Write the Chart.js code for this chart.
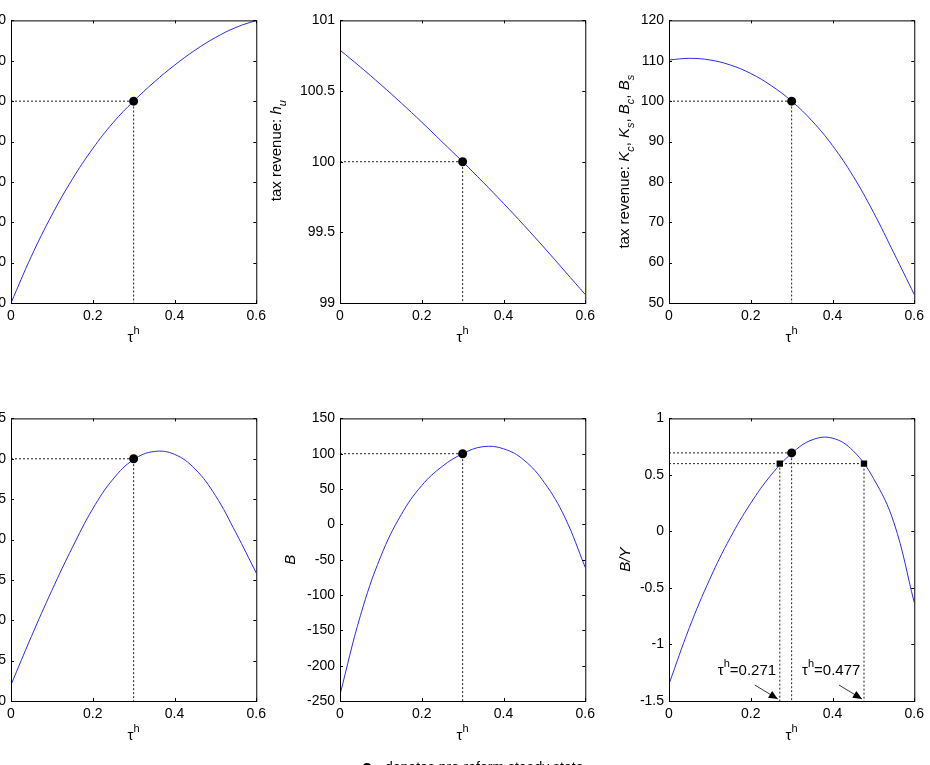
<!DOCTYPE html>
<html>
<head>
<meta charset="utf-8">
<script src="https://cdn.jsdelivr.net/npm/chart.js@4.4.1/dist/chart.umd.min.js"></script>
<style>
  html, body { margin: 0; padding: 0; background: #fff; }
  body { width: 930px; height: 765px; position: relative; overflow: hidden; font-family: "Liberation Sans", Arial, sans-serif; }
  canvas { position: absolute; }
  #note { position: absolute; left: 385px; top: 759px; font-size: 14px; line-height: 16px; white-space: nowrap; color: #000; }
  #noteDot { position: absolute; left: 363px; top: 763px; width: 8px; height: 8px; border-radius: 50%; background: #000; }
</style>
</head>
<body>
<canvas id="c1" width="339" height="356" style="left:-68px;top:7px"></canvas>
<canvas id="c2" width="339" height="356" style="left:261px;top:7px"></canvas>
<canvas id="c3" width="339" height="356" style="left:590px;top:7px"></canvas>
<canvas id="c4" width="339" height="356" style="left:-68px;top:405px"></canvas>
<canvas id="c5" width="339" height="356" style="left:261px;top:405px"></canvas>
<canvas id="c6" width="339" height="356" style="left:590px;top:405px"></canvas>
<div id="noteDot"></div>
<div id="note">denotes pre-reform steady state</div>
<script>
// values, tau^h on a 0.05 grid
const taxRates = [0, 0.05, 0.1, 0.15, 0.2, 0.25, 0.3, 0.35, 0.4, 0.45, 0.5, 0.55, 0.6];
const revenueLabour = [0, 23.2, 43.6, 61.3, 76.5, 89.4, 100, 109.4, 117.8, 125.2, 131.5, 136.5, 140];
const revenueHu = [100.79, 100.67, 100.545, 100.415, 100.28, 100.14, 100.0, 99.855, 99.705, 99.55, 99.39, 99.225, 99.06];
const revenueCapital = [110.2, 110.6, 110.2, 108.95, 106.85, 103.85, 100.0, 95.1, 89.0, 81.5, 72.5, 62.4, 52.1];
const revenueTotal = [72.0, 78.0, 83.7, 89.0, 93.8, 97.5, 99.9, 100.9, 100.55, 98.75, 95.45, 90.85, 85.85];
const debtLevel = [-241, -129, -45, 14, 55, 82, 100, 110, 107, 91, 59, 10, -61];
const debtRatio = [-1.35, -0.85, -0.42, -0.055, 0.25, 0.5, 0.69, 0.81, 0.825, 0.715, 0.47, 0.08, -0.63];

// pre-reform steady state and the two tax rates giving the same B/Y
const baseTau = 0.3;
const baseValues = [100, 100, 100, 100, 100, 0.695];
const thresholdTaus = [0.271, 0.477];
const thresholdRatio = 0.6;

// y axes
const yMins = [0, 99, 50, 70, -250, -1.5];
const yMaxs = [140, 101, 120, 105, 150, 1];
const ySteps = [20, 0.5, 10, 5, 50, 0.5];

const FONT = '"Liberation Sans", Arial, sans-serif';
const BLUE = 'rgb(45,45,230)';
const DOT_COLOR = '#222';

function fontFor(p, size) {
  const s = (p.sub || p.sup) ? Math.round(size * 0.72) : size;
  return (p.it ? 'italic ' : '') + s + 'px ' + FONT;
}
function richWidth(ctx, parts, size) {
  let w = 0;
  parts.forEach(p => { ctx.font = fontFor(p, size); w += ctx.measureText(p.t).width; });
  return w;
}
function drawRich(ctx, parts, size, x0, y0) {
  let x = x0;
  parts.forEach(p => {
    ctx.font = fontFor(p, size);
    const dy = p.sub ? size * 0.3 : (p.sup ? -size * 0.53 : 0);
    ctx.fillText(p.t, x, y0 + dy);
    x += ctx.measureText(p.t).width;
  });
}

const tauTitle = [{t: 'τ'}, {t: 'h', sup: true}];

// box with inward ticks on all four sides
const framePlugin = {
  id: 'frame',
  afterDatasetsDraw(chart) {
    const {ctx, chartArea: a, scales: {x, y}} = chart;
    ctx.save();
    ctx.strokeStyle = '#000';
    ctx.lineWidth = 1;
    ctx.strokeRect(a.left + 0.5, a.top + 0.5, a.right - a.left, a.bottom - a.top);
    ctx.beginPath();
    x.ticks.forEach(t => {
      const px = Math.round(x.getPixelForValue(t.value)) + 0.5;
      ctx.moveTo(px, a.bottom); ctx.lineTo(px, a.bottom - 3);
      ctx.moveTo(px, a.top); ctx.lineTo(px, a.top + 3);
    });
    y.ticks.forEach(t => {
      const py = Math.round(y.getPixelForValue(t.value)) + 0.5;
      ctx.moveTo(a.left, py); ctx.lineTo(a.left + 3, py);
      ctx.moveTo(a.right, py); ctx.lineTo(a.right - 3, py);
    });
    ctx.stroke();
    ctx.restore();
  }
};

const labelsPlugin = {
  id: 'labels',
  afterDraw(chart, args, o) {
    const {ctx, chartArea: a, scales: {x, y}} = chart;
    ctx.save();
    ctx.fillStyle = '#000';
    ctx.strokeStyle = '#000';
    ctx.textAlign = 'left';
    ctx.textBaseline = 'alphabetic';

    const xw = richWidth(ctx, tauTitle, 15);
    drawRich(ctx, tauTitle, 15, (a.left + a.right) / 2 - xw / 2, a.bottom + 39);

    (o.marks || []).forEach(t => {
      const px = x.getPixelForValue(t);
      const py = y.getPixelForValue(y.min);
      drawRich(ctx, [{t: 'τ'}, {t: 'h', sup: true}, {t: '=' + t}], 15, px - 62, py - 26);
      const x0 = px - 25, y0 = py - 16, x1 = px - 2, y1 = py - 2;
      ctx.lineWidth = 0.8;
      ctx.beginPath(); ctx.moveTo(x0, y0); ctx.lineTo(x1, y1); ctx.stroke();
      const len = Math.hypot(x1 - x0, y1 - y0), ux = (x1 - x0) / len, uy = (y1 - y0) / len;
      ctx.beginPath();
      ctx.moveTo(x1, y1);
      ctx.lineTo(x1 - 9 * ux - 4 * uy, y1 - 9 * uy + 4 * ux);
      ctx.lineTo(x1 - 9 * ux + 4 * uy, y1 - 9 * uy - 4 * ux);
      ctx.closePath();
      ctx.fill();
    });

    if (o.yTitle) {
      const yw = richWidth(ctx, o.yTitle, 15);
      ctx.translate(a.left - o.yGap, (a.top + a.bottom) / 2 + (o.yShift || 0));
      ctx.rotate(-Math.PI / 2);
      drawRich(ctx, o.yTitle, 15, -yw / 2, 0);
    }
    ctx.restore();
  }
};

function fmt(v) { return String(Math.round(v * 1000) / 1000); }

function dotted(points) {
  return {data: points, showLine: true, borderColor: DOT_COLOR, borderWidth: 1, borderDash: [2, 2],
          pointRadius: 0, tension: 0, order: 2};
}

function makeChart(id, k, curve, labelOpts, extra) {
  const yb = baseValues[k];
  const datasets = [
    {data: [{x: baseTau, y: yb}], pointRadius: 4.5, pointHoverRadius: 4.5,
     backgroundColor: '#000', borderColor: '#000', borderWidth: 0, order: 0},
    {data: taxRates.map((t, i) => ({x: t, y: curve[i]})), showLine: true, borderColor: BLUE,
     borderWidth: 1, pointRadius: 0, tension: 0.4, order: 1},
    dotted([{x: 0, y: yb}, {x: baseTau, y: yb}, {x: baseTau, y: yMins[k]}])
  ].concat(extra || []);

  return new Chart(document.getElementById(id), {
    type: 'scatter',
    data: {datasets},
    options: {
      responsive: false,
      animation: false,
      events: [],
      layout: {autoPadding: false, padding: {top: 10, right: 10, bottom: 0, left: 0}},
      scales: {
        x: {
          type: 'linear', min: 0, max: 0.6,
          afterFit: s => { s.height = 60; },
          grid: {display: false, drawTicks: false},
          border: {display: false},
          ticks: {stepSize: 0.2, padding: 5, color: '#000', autoSkip: false, maxRotation: 0,
                  font: {family: FONT, size: 14}, callback: fmt}
        },
        y: {
          type: 'linear', min: yMins[k], max: yMaxs[k],
          afterFit: s => { s.width = 79; },
          grid: {display: false, drawTicks: false},
          border: {display: false},
          ticks: {stepSize: ySteps[k], padding: 5, color: '#000', autoSkip: false,
                  font: {family: FONT, size: 14}, callback: fmt}
        }
      },
      plugins: {
        legend: {display: false},
        tooltip: {enabled: false},
        labels: labelOpts
      }
    },
    plugins: [framePlugin, labelsPlugin]
  });
}

makeChart('c1', 0, revenueLabour, {});
makeChart('c2', 1, revenueHu, {
  yTitle: [{t: 'tax revenue: '}, {t: 'h', it: true}, {t: 'u', it: true, sub: true}],
  yGap: 59, yShift: -11
});
makeChart('c3', 2, revenueCapital, {
  yTitle: [{t: 'tax revenue: '}, {t: 'K', it: true}, {t: 'c', it: true, sub: true}, {t: ', '},
           {t: 'K', it: true}, {t: 's', it: true, sub: true}, {t: ', '},
           {t: 'B', it: true}, {t: 'c', it: true, sub: true}, {t: ', '},
           {t: 'B', it: true}, {t: 's', it: true, sub: true}],
  yGap: 40
});
makeChart('c4', 3, revenueTotal, {});
makeChart('c5', 4, debtLevel, {yTitle: [{t: 'B', it: true}], yGap: 45});
makeChart('c6', 5, debtRatio, {yTitle: [{t: 'B/Y', it: true}], yGap: 39, marks: thresholdTaus}, [
  {data: thresholdTaus.map(t => ({x: t, y: thresholdRatio})), pointStyle: 'rect', pointRadius: 4.5,
   backgroundColor: '#000', borderColor: '#000', borderWidth: 0, order: 0},
  dotted([{x: 0, y: thresholdRatio}, {x: thresholdTaus[1], y: thresholdRatio}, {x: thresholdTaus[1], y: yMins[5]}]),
  dotted([{x: thresholdTaus[0], y: thresholdRatio}, {x: thresholdTaus[0], y: yMins[5]}])
]);
</script>
</body>
</html>
